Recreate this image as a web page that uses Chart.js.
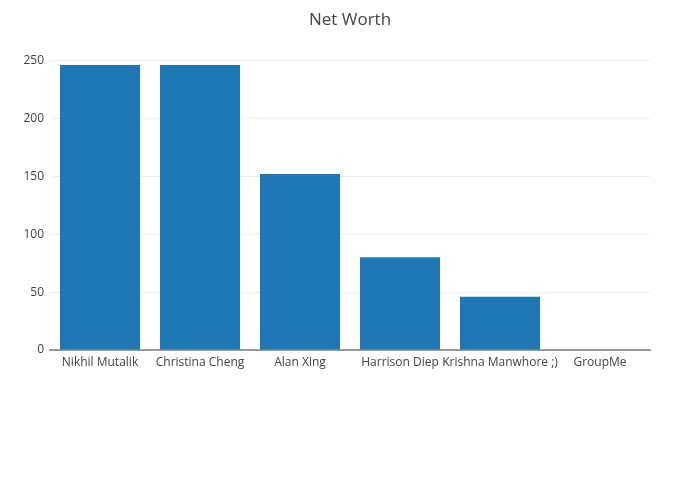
<!DOCTYPE html>
<html lang="en">
<head>
  <meta charset="UTF-8">
  <title>Net Worth</title>
  <script src="https://cdn.jsdelivr.net/npm/chart.js"></script>
  <style>
    body {
      margin: 0;
      background: #fff;
      font-family: 'Open Sans', sans-serif;
    }

    .chart-box {
      width: 700px;
      height: 500px;
    }
  </style>
</head>
<body>

<div class="chart-box">
  <canvas id="graficoNetWorth"></canvas>
</div>

<script>
  const nomes = ['Nikhil Mutalik', 'Christina Cheng', 'Alan Xing', 'Harrison Diep', 'Krishna Manwhore ;)', 'GroupMe'];
  const valores = [246, 246, 152, 80, 46, 0];
  const ticksY = [0, 50, 100, 150, 200, 250];

  const ctx = document.getElementById('graficoNetWorth').getContext('2d');
  new Chart(ctx, {
    type: 'bar',
    data: {
      labels: nomes,
      datasets: [{
        data: valores,
        backgroundColor: '#1f77b4',
        barPercentage: 0.8,
        categoryPercentage: 1
      }]
    },
    options: {
      responsive: true,
      maintainAspectRatio: false,
      animation: false,
      layout: {
        padding: 0
      },
      plugins: {
        legend: { display: false },
        tooltip: { enabled: false },
        title: {
          display: true,
          text: 'Net Worth',
          color: '#444',
          font: { family: 'Open Sans', size: 17, weight: 'normal' },
          padding: { top: 10, bottom: 30 }
        }
      },
      scales: {
        x: {
          grid: { display: false, drawTicks: false },
          border: { display: true, color: '#999', width: 2 },
          ticks: {
            color: '#444',
            font: { family: 'Open Sans', size: 12 },
            padding: 5,
            maxRotation: 0,
            autoSkip: false
          },
          afterFit: (scale) => { scale.height = 150; }
        },
        y: {
          min: 0,
          max: 250,
          afterBuildTicks: (scale) => {
            scale.ticks = ticksY.map(v => ({ value: v }));
          },
          grid: { color: '#eee', drawTicks: false },
          border: { display: false },
          ticks: {
            color: '#444',
            font: { family: 'Open Sans', size: 12 },
            padding: 6
          },
          afterFit: (scale) => { scale.width = 50; }
        },
        // eixo vazio so para reservar a margem da direita
        margemDireita: {
          type: 'linear',
          position: 'right',
          grid: { display: false, drawTicks: false },
          border: { display: false },
          ticks: { display: false },
          afterFit: (scale) => { scale.width = 50; }
        }
      }
    }
  });
</script>

</body>
</html>
